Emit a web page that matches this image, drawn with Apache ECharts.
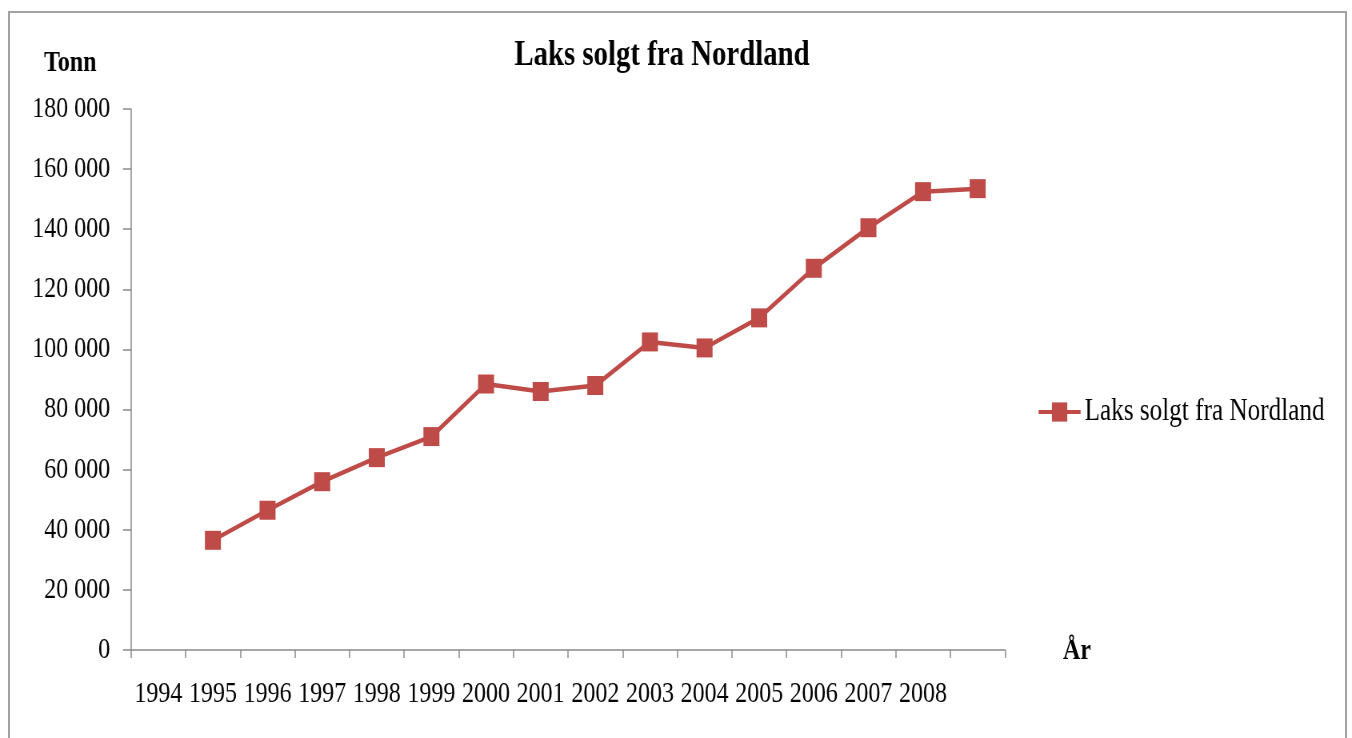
<!DOCTYPE html>
<html>
<head>
<meta charset="utf-8">
<script src="https://cdn.jsdelivr.net/npm/echarts@6/dist/echarts.min.js"></script>
<style>
  html, body { margin: 0; padding: 0; width: 1352px; height: 738px; overflow: hidden; background: #fff; }
  #frame { position: absolute; left: 8px; top: 11px; width: 1339px; height: 800px; border: 2px solid #a3a3a3; box-sizing: border-box; }
  /* the chart is laid out wide and squeezed horizontally to get the narrow serif look */
  #chart { position: absolute; left: 0; top: 0; width: 1690px; height: 738px; transform-origin: 0 0; transform: scaleX(0.8); }
</style>
</head>
<body>
<div id="frame"></div>
<div id="chart"></div>
<script>
// Category slots along the x axis (the last slot carries no label)
const years = ['1994', '1995', '1996', '1997', '1998', '1999', '2000', '2001', '2002', '2003', '2004', '2005', '2006', '2007', '2008', ''];
// Salmon sold from Nordland, tonnes
const tonnes = [null, 36500, 46500, 56000, 64000, 71000, 88500, 86000, 88000, 102500, 100500, 110500, 127000, 140500, 152500, 153500];
const seriesName = 'Laks solgt fra Nordland';
const titleText = 'Laks solgt fra Nordland';
const yAxisName = 'Tonn';
const xAxisName = 'År';

const SX = 0.8;                 // horizontal squeeze applied by CSS
const px = x => x / SX;         // screen x -> canvas x
const font = "'Liberation Serif', 'Times New Roman', serif";
const red = '#be4b48';
const axisGrey = '#8a8a8a';

const fmt = v => String(v).replace(/\B(?=(\d{3})+(?!\d))/g, ' ');

const chart = echarts.init(document.getElementById('chart'), null, { renderer: 'canvas' });
chart.setOption({
  animation: false,
  backgroundColor: 'transparent',
  title: {
    text: titleText,
    left: px(658),
    top: 33,
    textAlign: 'center',
    textStyle: { fontFamily: font, fontWeight: 'bold', fontSize: 36, color: '#000' }
  },
  legend: {
    left: px(1033),
    top: 391,
    orient: 'vertical',
    itemWidth: px(42),
    itemHeight: 24,
    itemGap: 0,
    lineStyle: { width: 4 },
    textStyle: { fontFamily: font, fontSize: 31.5, color: '#000', padding: [0, 0, 0, 0] },
    data: [seriesName]
  },
  grid: { left: px(131), right: 1690 - px(1005), top: 109, bottom: 88 },
  xAxis: {
    type: 'category',
    data: years,
    boundaryGap: true,
    axisLine: { show: true, lineStyle: { color: axisGrey, width: 1.5 } },
    axisTick: { show: true, length: 8, interval: 0, lineStyle: { color: axisGrey, width: 1.5 } },
    axisLabel: { interval: 0, margin: 29, fontFamily: font, fontSize: 30, color: '#000' },
    splitLine: { show: false }
  },
  yAxis: {
    type: 'value',
    min: 0,
    max: 180000,
    interval: 20000,
    axisLine: { show: true, lineStyle: { color: axisGrey, width: 1.5 } },
    axisTick: { show: true, length: 10, lineStyle: { color: axisGrey, width: 1.5 } },
    axisLabel: { margin: 26, fontFamily: font, fontSize: 30, color: '#000', formatter: fmt },
    splitLine: { show: false }
  },
  graphic: [
    {
      type: 'text', left: px(44), top: 48, z: 10,
      style: { text: yAxisName, font: 'bold 30px ' + font, fill: '#000' }
    },
    {
      type: 'text', left: px(1063), top: 636, z: 10,
      style: { text: xAxisName, font: 'bold 30px ' + font, fill: '#000' }
    }
  ],
  series: [{
    name: seriesName,
    type: 'line',
    data: tonnes,
    connectNulls: false,
    symbol: 'rect',
    symbolSize: [20, 19],
    itemStyle: { color: red, borderWidth: 0 },
    lineStyle: { color: red, width: 4.5 },
    emphasis: { disabled: true }
  }]
});
</script>
</body>
</html>
